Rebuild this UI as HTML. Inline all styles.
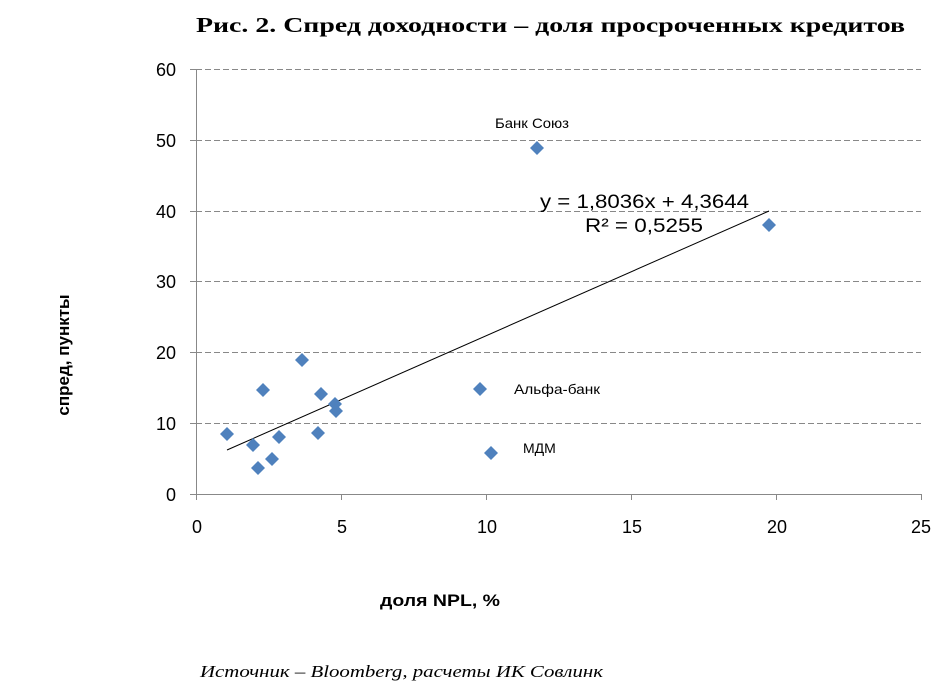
<!DOCTYPE html>
<html><head><meta charset="utf-8"><style>
body{margin:0;background:#fff;width:949px;height:690px;overflow:hidden}
svg{display:block}
</style></head><body>
<svg width="949" height="690" xmlns="http://www.w3.org/2000/svg" font-family="Liberation Sans, sans-serif">
<text x="196" y="32" textLength="709" lengthAdjust="spacingAndGlyphs" font-family="Liberation Serif, serif" font-weight="bold" font-size="21">Рис. 2. Спред доходности – доля просроченных кредитов</text>
<g stroke="#888" stroke-width="1" stroke-dasharray="6,3">
<line x1="196" y1="69.5" x2="921" y2="69.5"/>
<line x1="196" y1="140.5" x2="921" y2="140.5"/>
<line x1="196" y1="211.5" x2="921" y2="211.5"/>
<line x1="196" y1="281.5" x2="921" y2="281.5"/>
<line x1="196" y1="352.5" x2="921" y2="352.5"/>
<line x1="196" y1="423.5" x2="921" y2="423.5"/>
</g>
<g stroke="#888" stroke-width="1">
<line x1="196.5" y1="69" x2="196.5" y2="494"/>
<line x1="190" y1="494.5" x2="921" y2="494.5"/>
<line x1="190" y1="69.5" x2="196" y2="69.5"/>
<line x1="190" y1="140.5" x2="196" y2="140.5"/>
<line x1="190" y1="211.5" x2="196" y2="211.5"/>
<line x1="190" y1="281.5" x2="196" y2="281.5"/>
<line x1="190" y1="352.5" x2="196" y2="352.5"/>
<line x1="190" y1="423.5" x2="196" y2="423.5"/>
<line x1="196.5" y1="494" x2="196.5" y2="500"/>
<line x1="341.5" y1="494" x2="341.5" y2="500"/>
<line x1="486.5" y1="494" x2="486.5" y2="500"/>
<line x1="631.5" y1="494" x2="631.5" y2="500"/>
<line x1="776.5" y1="494" x2="776.5" y2="500"/>
<line x1="921.5" y1="494" x2="921.5" y2="500"/>
</g>
<g font-size="18" text-anchor="end" fill="#000">
<text x="176" y="76">60</text><text x="176" y="147">50</text><text x="176" y="218">40</text>
<text x="176" y="288">30</text><text x="176" y="359">20</text><text x="176" y="430">10</text><text x="176" y="501">0</text>
</g>
<g font-size="18" text-anchor="middle">
<text x="197" y="533">0</text><text x="342" y="533">5</text><text x="487" y="533">10</text>
<text x="632" y="533">15</text><text x="777" y="533">20</text><text x="921" y="533">25</text>
</g>
<line x1="227" y1="450" x2="769" y2="211" stroke="#000" stroke-width="1"/>
<g fill="#4f81bd">
<path d="M0,-7L7,0L0,7L-7,0Z" transform="translate(227,434)"/>
<path d="M0,-7L7,0L0,7L-7,0Z" transform="translate(253,445)"/>
<path d="M0,-7L7,0L0,7L-7,0Z" transform="translate(258,468)"/>
<path d="M0,-7L7,0L0,7L-7,0Z" transform="translate(263,390)"/>
<path d="M0,-7L7,0L0,7L-7,0Z" transform="translate(272,459)"/>
<path d="M0,-7L7,0L0,7L-7,0Z" transform="translate(279,437)"/>
<path d="M0,-7L7,0L0,7L-7,0Z" transform="translate(302,360)"/>
<path d="M0,-7L7,0L0,7L-7,0Z" transform="translate(318,433)"/>
<path d="M0,-7L7,0L0,7L-7,0Z" transform="translate(321,394)"/>
<path d="M0,-7L7,0L0,7L-7,0Z" transform="translate(335,404)"/>
<path d="M0,-7L7,0L0,7L-7,0Z" transform="translate(336,411)"/>
<path d="M0,-7L7,0L0,7L-7,0Z" transform="translate(480,389)"/>
<path d="M0,-7L7,0L0,7L-7,0Z" transform="translate(491,453)"/>
<path d="M0,-7L7,0L0,7L-7,0Z" transform="translate(537,148)"/>
<path d="M0,-7L7,0L0,7L-7,0Z" transform="translate(769,225)"/>
</g>
<g font-size="14">
<text x="495" y="128" textLength="74" lengthAdjust="spacingAndGlyphs">Банк Союз</text>
<text x="514" y="394" textLength="86" lengthAdjust="spacingAndGlyphs">Альфа-банк</text>
<text x="523" y="453">МДМ</text>
</g>
<g font-size="19">
<text x="540" y="208" textLength="209" lengthAdjust="spacingAndGlyphs">y = 1,8036x + 4,3644</text>
<text x="585" y="232" textLength="118" lengthAdjust="spacingAndGlyphs">R² = 0,5255</text>
</g>
<text x="380" y="606" font-size="17" font-weight="bold" textLength="120" lengthAdjust="spacingAndGlyphs">доля NPL, %</text>
<text transform="translate(69,355) rotate(-90)" font-size="17" font-weight="bold" text-anchor="middle">спред, пункты</text>
<text x="200" y="677" textLength="403" lengthAdjust="spacingAndGlyphs" font-family="Liberation Serif, serif" font-style="italic" font-size="17">Источник – Bloomberg, расчеты ИК Совлинк</text>
</svg>
</body></html>
